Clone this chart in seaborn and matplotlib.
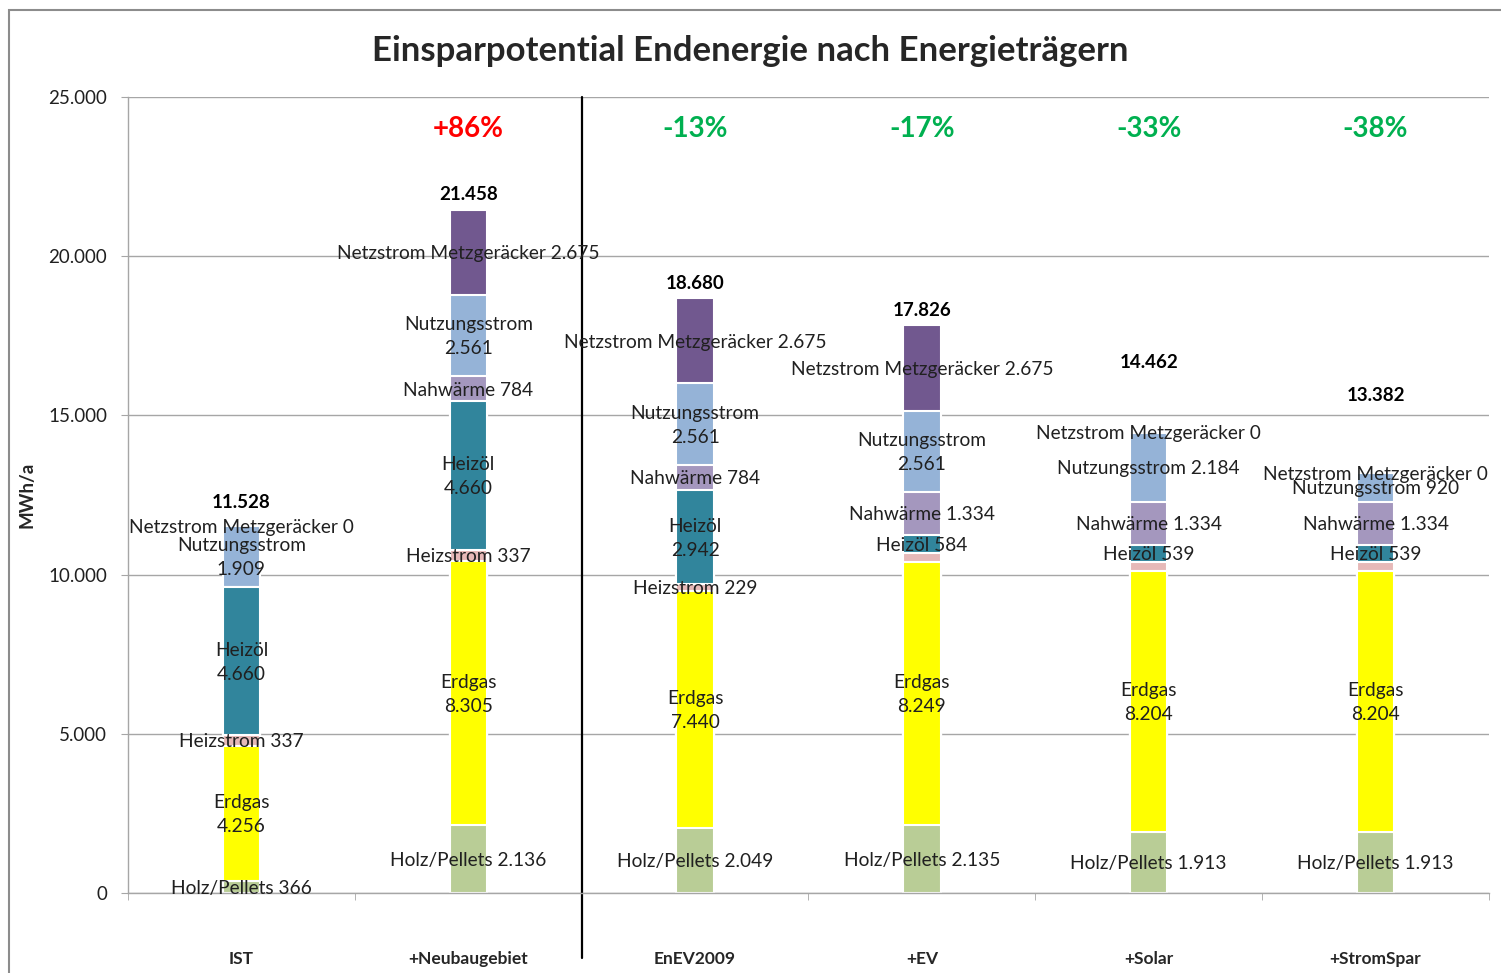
import numpy as np
import pandas as pd
import seaborn as sns
import matplotlib.pyplot as plt
from matplotlib.patches import Rectangle
from matplotlib.ticker import FuncFormatter, FixedLocator

# --- data (MWh/a) ---
scenarios = ['IST', '+Neubaugebiet', 'EnEV2009', '+EV', '+Solar', '+StromSpar']
carriers = ['Holz/Pellets', 'Erdgas', 'Heizstrom', 'Heizöl', 'Nahwärme',
            'Nutzungsstrom', 'Netzstrom Metzgeräcker']

holz = [366, 2136, 2049, 2135, 1913, 1913]
erdgas = [4256, 8305, 7440, 8249, 8204, 8204]
heizstrom = [337, 337, 229, 288, 288, 288]
heizoel = [4660, 4660, 2942, 584, 539, 539]
nahwaerme = [np.nan, 784, 784, 1334, 1334, 1334]
nutzungsstrom = [1909, 2561, 2561, 2561, 2184, 920]
netzstrom = [0, 2675, 2675, 2675, 0, 0]

totals = [11528, 21458, 18680, 17826, 14462, 13382]
changes = ['', '+86%', '-13%', '-17%', '-33%', '-38%']

colors = ['#B9CD96', '#FFFF00', '#E6B9B8', '#31859C', '#A497BE', '#95B3D7', '#71588F']

# labels that excel did not show / did not wrap
hidden = {('Heizstrom', '+EV'), ('Heizstrom', '+Solar'), ('Heizstrom', '+StromSpar')}
wrapped = {'Erdgas', 'Heizöl', 'Nutzungsstrom'}
single_line = {('Nutzungsstrom', '+Solar')}

df = pd.DataFrame({'Szenario': scenarios, 'Holz/Pellets': holz, 'Erdgas': erdgas,
                   'Heizstrom': heizstrom, 'Heizöl': heizoel, 'Nahwärme': nahwaerme,
                   'Nutzungsstrom': nutzungsstrom, 'Netzstrom Metzgeräcker': netzstrom})
cum = df[carriers].fillna(0).cumsum(axis=1)
cum['Szenario'] = scenarios

def de(v):
    return f'{v:,.0f}'.replace(',', '.')

sns.set_style('white')
plt.rcParams['font.family'] = ['Lato', 'DejaVu Sans']

fig = plt.figure(figsize=(15.01, 9.73), dpi=100)
ax = fig.add_axes([128 / 1501, 80 / 973, 1361 / 1501, 796 / 973])

# stacked bars: draw cumulative heights from top layer down
for name, col in reversed(list(zip(carriers, colors))):
    sns.barplot(data=cum, x='Szenario', y=name, order=scenarios, color=col,
                width=0.165, edgecolor='white', linewidth=1.5, saturation=1, ax=ax)

# segment labels
for i, sc in enumerate(scenarios):
    base = 0
    for name in carriers:
        v = df.loc[i, name]
        if pd.isna(v):
            continue
        if (name, sc) not in hidden:
            if name in wrapped and v >= 1500 and (name, sc) not in single_line:
                txt = f'{name}\n{de(v)}'
            else:
                txt = f'{name} {de(v)}'
            ax.text(i, base + v / 2 - 40, txt, ha='center', va='center', fontsize=13.8,
                    color='#202020', linespacing=1.5)
        base += v

# totals above the bars
total_pad_px = [23, 15, 15, 15, 70, 77]
for i, t in enumerate(totals):
    top = cum.loc[i, carriers[-1]]
    ax.annotate(de(t), (i, top), xytext=(0, total_pad_px[i] * 0.72),
                textcoords='offset points', ha='center', va='center',
                fontsize=13.5, fontweight='bold', color='black')

for i, c in enumerate(changes):
    if c:
        ax.text(i, 24000, c, ha='center', va='center', fontsize=20, fontweight='bold',
                color='#FF0000' if c.startswith('+') else '#00B050')

# axes styling
ax.set_xlim(-0.5, 5.5)
ax.set_ylim(0, 25000)
ax.yaxis.set_major_locator(FixedLocator(range(0, 25001, 5000)))
ax.yaxis.set_major_formatter(FuncFormatter(lambda v, p: de(v)))
ax.grid(axis='y', color='#A6A6A6', linewidth=1)
ax.set_axisbelow(True)
for s in ['top', 'right']:
    ax.spines[s].set_visible(False)
for s in ['left', 'bottom']:
    ax.spines[s].set_color('#A6A6A6')
    ax.spines[s].set_linewidth(1)
ax.tick_params(axis='y', which='major', left=True, length=5, color='#A6A6A6',
               labelsize=13.5, labelcolor='#202020', pad=10)
ax.set_xticks(range(len(scenarios)))
ax.set_xticklabels(scenarios, fontsize=12.5, fontweight='bold')
ax.tick_params(axis='x', which='major', length=0, pad=42)
ax.set_xticks(np.arange(-0.5, 6, 1), minor=True)
ax.tick_params(axis='x', which='minor', bottom=True, length=5, color='#A6A6A6')
ax.set_xlabel('')
ax.set_ylabel('MWh/a', fontsize=13.5, fontweight='bold')
ax.yaxis.set_label_coords(-0.068, 0.5)

# separator between current state and scenarios
ax.plot([1.5, 1.5], [-0.082, 1.0], color='black', linewidth=1.6,
        transform=ax.get_xaxis_transform(), clip_on=False)

fig.text(750 / 1501, 1 - 51 / 973, 'Einsparpotential Endenergie nach Energieträgern',
         ha='center', va='center', fontsize=25, fontweight='bold')

fig.patches.append(Rectangle((9 / 1501, -0.1), 1.2, 1 - 10 / 973 + 0.1,
                             transform=fig.transFigure, fill=False,
                             edgecolor='#8C8C8C', linewidth=1.5))

fig.savefig('out.png', dpi=100)
